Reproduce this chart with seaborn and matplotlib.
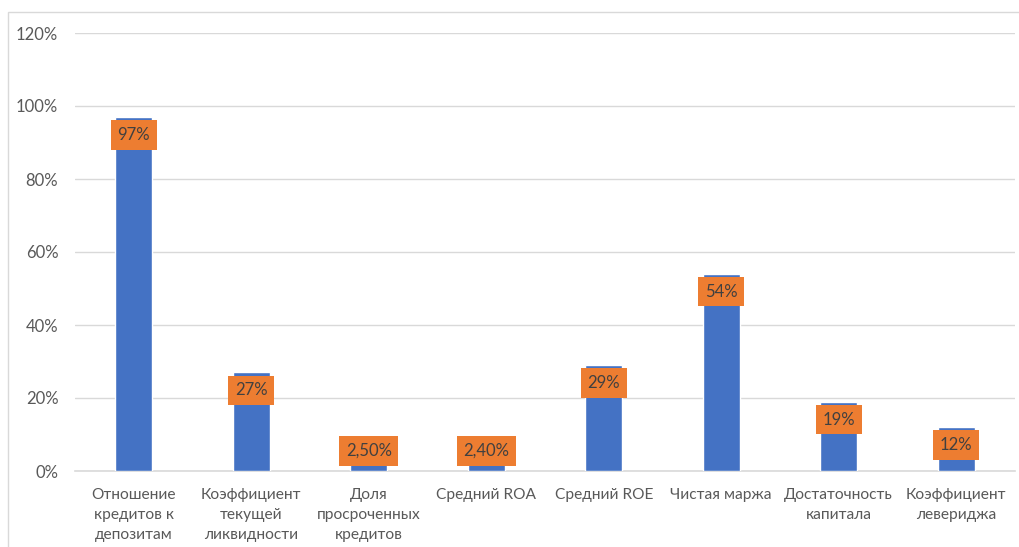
import matplotlib
matplotlib.use("Agg")
import matplotlib.pyplot as plt
import seaborn as sns
import pandas as pd
from matplotlib.patches import Rectangle
from matplotlib.ticker import FuncFormatter

categories = ["Отношение\nкредитов к\nдепозитам", "Коэффициент\nтекущей\nликвидности",
              "Доля\nпросроченных\nкредитов", "Средний ROA", "Средний ROE",
              "Чистая маржа", "Достаточность\nкапитала", "Коэффициент\nлевериджа"]
values = [97, 27, 2.5, 2.4, 29, 54, 19, 12]
labels = ["97%", "27%", "2,50%", "2,40%", "29%", "54%", "19%", "12%"]
yticks = [0, 20, 40, 60, 80, 100, 120]

sns.set_theme(style="white")
plt.rcParams['font.family'] = ['Lato', 'Open Sans', 'DejaVu Sans']

df = pd.DataFrame({"cat": categories, "val": values})

fig = plt.figure(figsize=(10.2, 5.47), dpi=100)
fig.patches.append(Rectangle((8/1020, -0.01), 1 - 8/1020, 1.01 - 12/547, transform=fig.transFigure,
                             fill=False, edgecolor="#D9D9D9", linewidth=1))
ax = fig.add_axes([75/1020, 1 - 471/547, 940/1020, 438/547])
sns.barplot(data=df, x="cat", y="val", color="#4472C4", saturation=1, width=0.315, ax=ax, zorder=3)

ax.set_ylim(0, 120)
ax.set_yticks(yticks)
ax.yaxis.set_major_formatter(FuncFormatter(lambda v, p: f"{int(v)}%"))
ax.grid(axis="y", color="#D9D9D9", linewidth=1, zorder=0)
ax.set_axisbelow(True)
for s in ["top", "right", "left"]:
    ax.spines[s].set_visible(False)
ax.spines["bottom"].set_color("#D9D9D9")
ax.spines["bottom"].set_linewidth(1.2)
ax.set_xlabel("")
ax.set_ylabel("")
ax.tick_params(axis="y", length=0, pad=12, labelsize=12, labelcolor="#595959")
ax.tick_params(axis="x", length=0, pad=12, labelsize=11.2, labelcolor="#595959")
for t in ax.get_xticklabels():
    t.set_linespacing(1.55)
    t.set_horizontalalignment("center")

for i, (v, lab) in enumerate(zip(values, labels)):
    yc = max(v - 4.9, 5.5)
    ax.text(i, yc, lab, ha="center", va="center", fontsize=12, color="#404040", zorder=5,
            bbox=dict(boxstyle="square,pad=0.4", facecolor="#ED7D31", edgecolor="none"))

fig.savefig("out.png", dpi=100)
